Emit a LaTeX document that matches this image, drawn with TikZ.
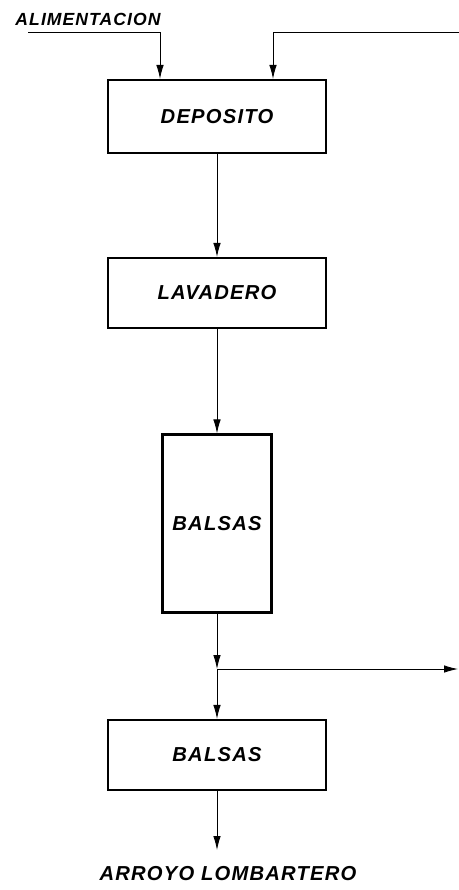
\documentclass[tikz,border=0pt]{standalone}
\usepackage{fontspec}
\setmainfont{Liberation Sans}
\newfontfamily\stencilfont[LetterSpace=6]{Liberation Sans}
\usetikzlibrary{arrows.meta}

\begin{document}
\begin{tikzpicture}[
  font=\stencilfont\bfseries\itshape\fontsize{11.5}{13}\selectfont,
  blk/.style={draw, line width=1.2pt, inner sep=0pt,
              minimum width=4.36cm, minimum height=1.4cm},
  tallblk/.style={blk, minimum width=2.18cm, minimum height=3.56cm},
  lbl/.style={inner sep=0pt},
  arr/.style={-{Latex[length=2.8mm, width=1.5mm]}, line width=0.5pt}
]
\useasboundingbox (0,0) rectangle (9.18,-17.8);

\node[blk, minimum height=1.46cm] (dep) at (4.34, -2.33) {DEPOSITO};
\node[blk] (lav) at (4.34, -5.86) {LAVADERO};
\node[tallblk] (bal1) at (4.34, -10.47) {BALSAS};
\node[blk] (bal2) at (4.34, -15.10) {BALSAS};

\node[lbl, font=\stencilfont\bfseries\itshape\fontsize{10}{12}\selectfont]
  (alim) at (1.76, -0.38) {ALIMENTACION};
\node[lbl] (arroyo) at (4.56, -17.48) {ARROYO LOMBARTERO};

\coordinate (feedA) at (0.56, -0.64);
\coordinate (inA) at (3.20, -0.64);
\coordinate (feedB) at (9.18, -0.64);
\coordinate (inB) at (5.46, -0.64);
\coordinate (split) at (4.34, -13.38);
\coordinate (bypass) at (9.16, -13.38);
\coordinate (river) at (4.34, -17.0);

\draw[arr] (feedA) -- (inA) -- (inA |- dep.north);
\draw[arr] (feedB) -- (inB) -- (inB |- dep.north);
\draw[arr] (dep) -- (lav);
\draw[arr] (lav) -- (bal1);
\draw[arr] (bal1) -- (split);
\draw[arr] (split) -- (bypass);
\draw[arr] (split) -- (bal2);
\draw[arr] (bal2) -- (river);

\end{tikzpicture}
\end{document}
